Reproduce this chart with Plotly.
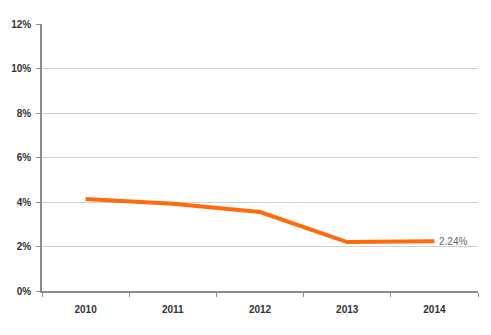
import plotly.graph_objects as go

years = ["2010", "2011", "2012", "2013", "2014"]
rates = [4.13, 3.92, 3.55, 2.20, 2.24]
y_ticks = [0, 2, 4, 6, 8, 10, 12]
y_labels = ["0%", "2%", "4%", "6%", "8%", "10%", "12%"]
end_label = "2.24%"

fig = go.Figure()
fig.add_trace(go.Scatter(
    x=years, y=rates, mode="lines",
    line=dict(color="#FF6A0A", width=4),
    hoverinfo="skip", showlegend=False,
))
fig.add_annotation(
    x=len(years) - 1, y=rates[-1], xref="x", yref="y", text=end_label, showarrow=False,
    xanchor="left", yanchor="middle", xshift=3,
    font=dict(family="Liberation Sans, Arial", size=10, color="#666666"),
)
fig.update_layout(
    width=491, height=335,
    margin=dict(l=34, r=21, t=16, b=52),
    paper_bgcolor="white", plot_bgcolor="white",
    font=dict(family="Liberation Sans, Arial", size=10, color="#333333"),
)
fig.update_xaxes(
    type="category", range=[-0.5, 4.5], automargin=False,
    showgrid=False, showline=True, linecolor="#8c8c8c", linewidth=1.5,
    ticks="outside", tickson="boundaries", ticklen=4, tickcolor="#8c8c8c",
    tickfont=dict(family="Liberation Sans, Arial", size=10, color="#333333", weight="bold"),
    ticklabelstandoff=8,
)
fig.update_yaxes(
    range=[0, 12], tickvals=y_ticks, ticktext=y_labels, automargin=False,
    showgrid=True, gridcolor="#d0d0d0", gridwidth=1,
    showline=True, linecolor="#8c8c8c", linewidth=1.5,
    ticks="outside", ticklen=4, tickcolor="#8c8c8c",
    tickfont=dict(family="Liberation Sans, Arial", size=10, color="#333333", weight="bold"),
    ticklabelstandoff=3,
    zeroline=False,
)
fig.write_html("out.html")
